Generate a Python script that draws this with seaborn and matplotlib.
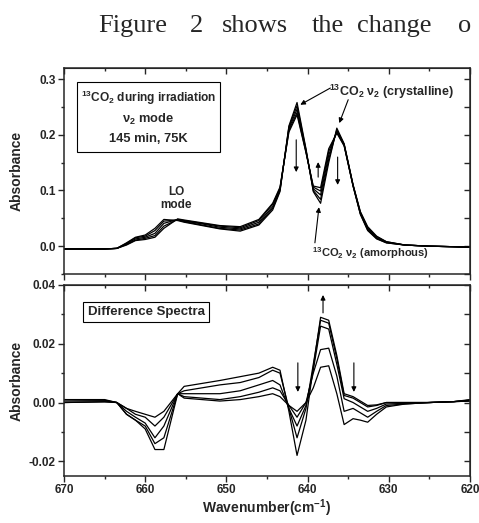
import numpy as np
import pandas as pd
import matplotlib
matplotlib.use("Agg")
import matplotlib.pyplot as plt
from matplotlib.ticker import MultipleLocator, FormatStrFormatter
from matplotlib.patches import Rectangle
import seaborn as sns

# wavenumber grid (cm-1)
wavenumber = [670, 665, 663.5, 662.3, 661.2, 660, 658.8, 657.7, 656.0, 655.2, 653,
              650.8, 648.3, 646, 644.3, 643.4, 642.3, 641.3, 640.2, 639.3, 638.4,
              637.4, 636.4, 635.5, 634.4, 633.5, 632.6, 631.5, 630.3, 628, 625, 622, 620]

# absorbance spectra during irradiation (top panel)
abs_1 = [-0.005, -0.005, -0.004, 0.006, 0.016, 0.020, 0.032, 0.048, 0.046, 0.043, 0.037,
         0.031, 0.027, 0.038, 0.065, 0.098, 0.216, 0.258, 0.175, 0.098, 0.077,
         0.150, 0.212, 0.184, 0.110, 0.062, 0.035, 0.018, 0.008, 0.002, 0.000, -0.001, -0.002]
abs_2 = [-0.005, -0.005, -0.004, 0.005, 0.015, 0.018, 0.028, 0.045, 0.047, 0.044, 0.038,
         0.032, 0.029, 0.040, 0.068, 0.100, 0.214, 0.252, 0.173, 0.100, 0.084,
         0.156, 0.209, 0.183, 0.110, 0.061, 0.033, 0.017, 0.008, 0.002, 0.000, -0.001, -0.002]
abs_3 = [-0.005, -0.005, -0.004, 0.004, 0.013, 0.016, 0.023, 0.041, 0.048, 0.045, 0.040,
         0.034, 0.031, 0.043, 0.071, 0.102, 0.211, 0.246, 0.171, 0.103, 0.092,
         0.163, 0.207, 0.182, 0.109, 0.059, 0.031, 0.015, 0.007, 0.002, 0.000, -0.001, -0.002]
abs_4 = [-0.005, -0.005, -0.004, 0.003, 0.011, 0.014, 0.019, 0.036, 0.048, 0.046, 0.041,
         0.036, 0.033, 0.046, 0.075, 0.104, 0.208, 0.240, 0.169, 0.106, 0.099,
         0.170, 0.205, 0.181, 0.108, 0.058, 0.029, 0.014, 0.006, 0.002, 0.000, -0.001, -0.002]
abs_5 = [-0.005, -0.005, -0.004, 0.002, 0.010, 0.012, 0.016, 0.032, 0.049, 0.047, 0.042,
         0.037, 0.035, 0.048, 0.077, 0.106, 0.205, 0.236, 0.168, 0.108, 0.105,
         0.175, 0.203, 0.180, 0.108, 0.057, 0.028, 0.013, 0.006, 0.002, 0.000, -0.001, -0.002]

# difference spectra (bottom panel)
diff_1 = [0.001, 0.001, 0.0, -0.002, -0.003, -0.004, -0.005, -0.003, 0.003, 0.0015, 0.001,
          0.0005, 0.001, 0.002, 0.003, 0.002, -0.001, -0.003, 0.0, 0.005, 0.012,
          0.0125, 0.003, -0.0075, -0.0055, -0.006, -0.0067, -0.004, -0.0015, -0.0005, 0.0, 0.0003, 0.0005]
diff_2 = [0.001, 0.0008, 0.0, -0.002, -0.004, -0.005, -0.008, -0.005, 0.003, 0.002, 0.0015,
          0.001, 0.002, 0.0035, 0.005, 0.004, -0.001, -0.005, 0.0, 0.010, 0.018,
          0.0185, 0.009, -0.003, -0.002, -0.0035, -0.005, -0.003, -0.001, -0.0005, 0.0, 0.0003, 0.0008]
diff_3 = [0.0005, 0.0006, 0.0, -0.003, -0.005, -0.007, -0.012, -0.008, 0.003, 0.003, 0.003,
          0.003, 0.004, 0.006, 0.0075, 0.006, -0.002, -0.008, -0.001, 0.011, 0.026,
          0.025, 0.013, 0.0013, 0.0, -0.0015, -0.003, -0.002, -0.0005, -0.0003, 0.0, 0.0003, 0.001]
diff_4 = [0.0, 0.0003, 0.0, -0.004, -0.006, -0.008, -0.014, -0.012, 0.003, 0.004, 0.005,
          0.006, 0.0068, 0.0085, 0.011, 0.010, -0.002, -0.012, -0.002, 0.013, 0.028,
          0.027, 0.015, 0.0024, 0.0015, 0.0, -0.0015, -0.001, 0.0, 0.0, 0.0, 0.0003, 0.0008]
diff_5 = [0.0, 0.0002, 0.0, -0.004, -0.006, -0.009, -0.016, -0.016, 0.003, 0.0055, 0.0065,
          0.0075, 0.0088, 0.010, 0.012, 0.011, -0.003, -0.018, -0.006, 0.012, 0.029,
          0.028, 0.016, 0.003, 0.002, 0.0005, -0.001, -0.0008, 0.0, 0.0, 0.0, 0.0003, 0.0005]

top_series = {"1": abs_1, "2": abs_2, "3": abs_3, "4": abs_4, "5": abs_5}
bottom_series = {"1": diff_1, "2": diff_2, "3": diff_3, "4": diff_4, "5": diff_5}


def long_frame(series):
    frames = []
    for name, vals in series.items():
        frames.append(pd.DataFrame({"wavenumber": wavenumber, "absorbance": vals, "scan": name}))
    return pd.concat(frames, ignore_index=True)


top_df = long_frame(top_series)
bottom_df = long_frame(bottom_series)

sns.set_style("ticks")
plt.rcParams["font.family"] = ["Liberation Sans", "DejaVu Sans"]
plt.rcParams["font.weight"] = "bold"
plt.rcParams["mathtext.fontset"] = "custom"
plt.rcParams["mathtext.rm"] = "Liberation Sans:bold"
plt.rcParams["mathtext.it"] = "Liberation Sans:bold"
plt.rcParams["mathtext.bf"] = "Liberation Sans:bold"
plt.rcParams["mathtext.default"] = "rm"

fig = plt.figure(figsize=(4.79, 5.23), dpi=100)
ax1 = fig.add_axes([0.1336, 0.4761, 0.8476, 0.3939])
ax2 = fig.add_axes([0.1336, 0.0899, 0.8476, 0.3652])

black = {k: "black" for k in top_series}
sns.lineplot(data=top_df, x="wavenumber", y="absorbance", hue="scan", palette=black,
             estimator=None, sort=False, lw=0.9, legend=False, ax=ax1)
sns.lineplot(data=bottom_df, x="wavenumber", y="absorbance", hue="scan", palette=black,
             estimator=None, sort=False, lw=0.9, legend=False, ax=ax2)


def style_axes(ax, ylim, ymajor, yminor, show_xlabels):
    ax.set_xlim(670, 620)
    ax.set_ylim(*ylim)
    ax.xaxis.set_major_locator(MultipleLocator(10))
    ax.xaxis.set_minor_locator(MultipleLocator(5))
    ax.yaxis.set_major_locator(MultipleLocator(ymajor))
    ax.yaxis.set_minor_locator(MultipleLocator(yminor))
    ax.tick_params(which="major", direction="out", length=4, width=1, labelsize=8.5, pad=2)
    ax.tick_params(which="minor", direction="out", length=2.5, width=1)
    ax.tick_params(axis="x", labelbottom=show_xlabels)
    for s in ax.spines.values():
        s.set_visible(True)
        s.set_linewidth(1.1)
    sec_x = ax.secondary_xaxis("top")
    sec_x.xaxis.set_major_locator(MultipleLocator(10))
    sec_x.xaxis.set_minor_locator(MultipleLocator(5))
    sec_x.tick_params(which="both", direction="in", labeltop=False, width=1)
    sec_x.tick_params(which="major", length=4)
    sec_x.tick_params(which="minor", length=2.5)
    sec_y = ax.secondary_yaxis("right")
    sec_y.yaxis.set_major_locator(MultipleLocator(ymajor))
    sec_y.yaxis.set_minor_locator(MultipleLocator(yminor))
    sec_y.tick_params(which="both", direction="in", labelright=False, width=1)
    sec_y.tick_params(which="major", length=4)
    sec_y.tick_params(which="minor", length=4)
    ax.set_xlabel("")
    ax.set_ylabel("Absorbance", fontsize=10, fontweight="bold")
    ax.yaxis.set_label_coords(-0.1, 0.5)


style_axes(ax1, (-0.05, 0.32), 0.1, 0.05, False)
style_axes(ax2, (-0.025, 0.04), 0.02, 0.01, True)
ax1.yaxis.set_major_formatter(FormatStrFormatter("%.1f"))
ax2.yaxis.set_major_formatter(FormatStrFormatter("%.2f"))
ax2.set_xlabel("Wavenumber(cm$^{-1}$)", fontsize=10, fontweight="bold", labelpad=1)

arrow = dict(arrowstyle="-|>", lw=0.8, color="black", mutation_scale=7, shrinkA=0, shrinkB=0)

# top panel annotations
ax1.add_patch(Rectangle((668.4, 0.169), -17.6, 0.126, fill=False, lw=0.8, ec="black"))
ax1.text(659.6, 0.266, "$^{13}$CO$_2$ during irradiation", ha="center", va="center", fontsize=8.6)
ax1.text(659.6, 0.228, "ν$_2$ mode", ha="center", va="center", fontsize=9.3)
ax1.text(659.6, 0.192, "145 min, 75K", ha="center", va="center", fontsize=9.3)
ax1.text(656.2, 0.097, "LO", ha="center", va="center", fontsize=8.5)
ax1.text(656.2, 0.074, "mode", ha="center", va="center", fontsize=8.5)
ax1.text(629.7, 0.277, "$^{13}$CO$_2$ ν$_2$ (crystalline)", ha="center", va="center", fontsize=9)
ax1.text(632.2, -0.012, "$^{13}$CO$_2$ ν$_2$ (amorphous)", ha="center", va="center", fontsize=8)
ax1.annotate("", xy=(640.9, 0.254), xytext=(637.2, 0.284), arrowprops=arrow)
ax1.annotate("", xy=(636.1, 0.221), xytext=(635.0, 0.263), arrowprops=arrow)
ax1.annotate("", xy=(638.6, 0.070), xytext=(639.1, 0.006), arrowprops=arrow)
ax1.annotate("", xy=(641.4, 0.133), xytext=(641.4, 0.191), arrowprops=arrow)
ax1.annotate("", xy=(638.7, 0.151), xytext=(638.7, 0.124), arrowprops=arrow)
ax1.annotate("", xy=(636.3, 0.110), xytext=(636.3, 0.160), arrowprops=arrow)

# bottom panel annotations
ax2.add_patch(Rectangle((667.7, 0.0274), -15.6, 0.0068, fill=False, lw=0.8, ec="black"))
ax2.text(659.9, 0.0308, "Difference Spectra", ha="center", va="center", fontsize=9.5)
ax2.annotate("", xy=(641.2, 0.0036), xytext=(641.2, 0.0135), arrowprops=arrow)
ax2.annotate("", xy=(638.1, 0.0366), xytext=(638.1, 0.0305), arrowprops=arrow)
ax2.annotate("", xy=(634.3, 0.0036), xytext=(634.3, 0.0135), arrowprops=arrow)

# running text of the page above the figure
words = ["Figure", "2", "shows", "the", "change", "o"]
word_x = [98, 190, 222, 312, 357, 458]
for w, px in zip(words, word_x):
    fig.text(px / 479, 1 - 32 / 523, w, ha="left", va="baseline", fontsize=19,
             family="Liberation Serif", fontweight="normal")

fig.savefig("out.png", dpi=100)
